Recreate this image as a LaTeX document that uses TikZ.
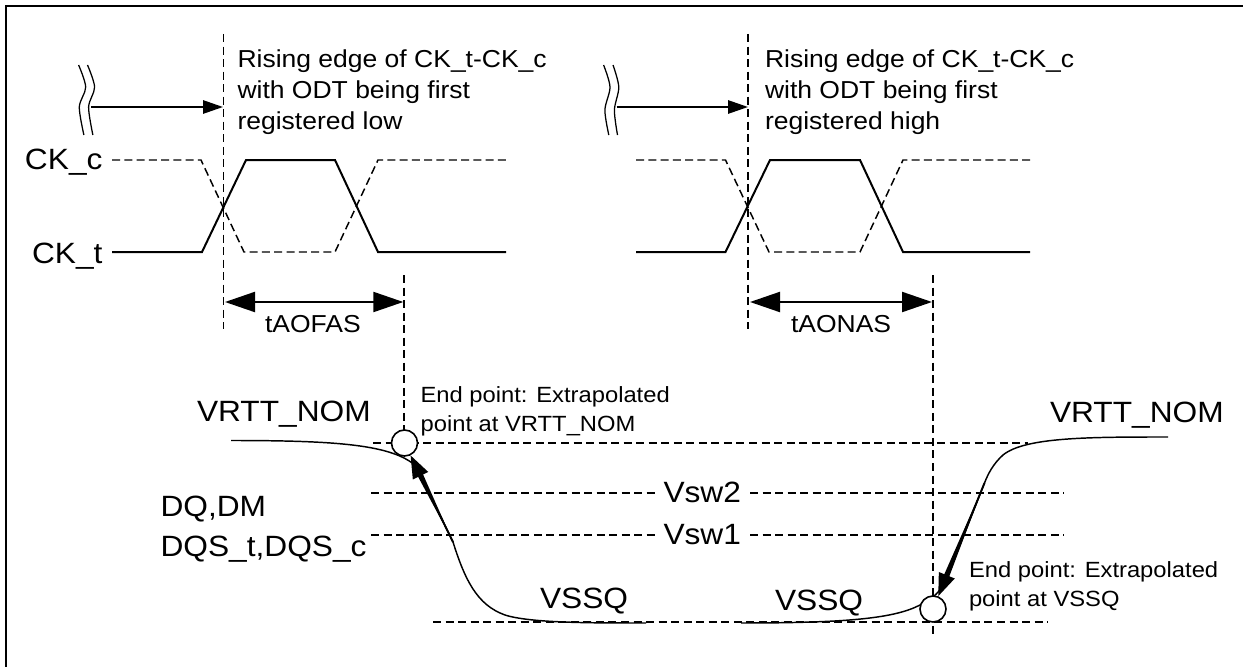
\documentclass[tikz,border=0pt]{standalone}
\usepackage{fontspec}
\usetikzlibrary{arrows.meta}
\newfontfamily\refsans[FakeStretch=1.08]{Liberation Sans}
\tikzset{
  lbl/.style={inner sep=0pt,outer sep=0pt,anchor=base west,align=left},
  big/.style={lbl,font=\refsans\fontsize{22}{26}\selectfont},
  mid/.style={lbl,font=\refsans\fontsize{18.4}{23.6}\selectfont},
  sml/.style={lbl,font=\refsans\fontsize{16.5}{21.75}\selectfont},
  sig/.style={line width=1.5pt,line cap=butt,line join=miter},
  sigd/.style={line width=1.1pt,dash pattern=on 6pt off 3.2pt},
  guide/.style={line width=1.1pt,dash pattern=on 6pt off 3.4pt},
  wave/.style={line width=0.95pt},
  curve/.style={line width=1.1pt},
  dim/.style={line width=1.6pt,{Triangle[length=22.5pt,width=15pt]}-{Triangle[length=22.5pt,width=15pt]}},
  reg/.style={line width=1.4pt,-{Triangle[length=15pt,width=10pt]}},
  edgearrow/.style={line width=1.4pt,-{Triangle[length=17pt,width=12.5pt]}},
  endcirc/.style={circle,draw,fill=white,line width=1.2pt,minimum size=19.5pt,inner sep=0pt},
}
\begin{document}
\begin{tikzpicture}[x=0.75pt,y=-0.75pt]
\useasboundingbox (0,0) rectangle (1243,667);
% frame: only top and left are present
\draw[line width=1.8pt] (1243,6) -- (6,6) -- (6,667);

% ---- guides
\coordinate (g1t) at (223.3,34); \coordinate (g1b) at (223.3,329);
\coordinate (g2t) at (404,275);
\coordinate (g3t) at (748,34);   \coordinate (g3b) at (748,329);
\coordinate (g4t) at (933,275);  \coordinate (g4b) at (933,638);
\draw[guide] (g1t) -- (g1b);
\draw[guide] (g3t) -- (g3b);
\draw[guide] (g2t) -- (404,443);
\draw[guide] (g4t) -- (g4b);

% horizontal levels
\coordinate (h1a) at (373,443);  \coordinate (h1b) at (1028,443);
\coordinate (s2a) at (371,493);  \coordinate (s2b) at (1064,493);
\coordinate (s1a) at (371,535);  \coordinate (s1b) at (1064,535);
\coordinate (h0a) at (433,622);  \coordinate (h0b) at (1048,622);
\draw[guide] (h1a) -- (h1b);
\draw[guide] (h0a) -- (h0b);
\node[big] (vsw2) at (663.5,502.7) {Vsw2};
\node[big] (vsw1) at (663.5,544) {Vsw1};
\draw[guide] (s2a) -- (655,493); \draw[guide] (750,493) -- (s2b);
\draw[guide] (s1a) -- (655,535); \draw[guide] (750,535) -- (s1b);

% ---- clocks
\draw[sigd] (112,160) -- (201,160) -- (244,252) -- (335,252) -- (378,160) -- (506,160);
\draw[sig]  (112,252) -- (202,252) -- (246,160) -- (335,160) -- (378,252) -- (506,252);
\draw[sigd] (636,160) -- (725.5,160) -- (769,252) -- (860,252) -- (903,160) -- (1030,160);
\draw[sig]  (636,252) -- (725.5,252) -- (770,160) -- (860,160) -- (903,252) -- (1030,252);

\node[big] (ckc) at (25,170) {CK\_c};
\node[big] (ckt) at (32,263) {CK\_t};

% ---- break marks and arrows
\draw[wave] plot[smooth] coordinates {(78.6,65) (85.7,87) (79.3,107) (83.9,135)};
\draw[wave] plot[smooth] coordinates {(87.5,65) (94.6,87) (88.6,107) (92.9,135)};
\draw[wave] plot[smooth] coordinates {(603.6,65) (610,87) (604.9,110) (608.8,135)};
\draw[wave] plot[smooth] coordinates {(613,65) (618.8,87) (614.4,110) (617.5,135)};
\coordinate (br1) at (91,107);  \coordinate (br1e) at (223,107);
\coordinate (br2) at (616.6,107); \coordinate (br2e) at (748,107);
\draw[reg] (br1) -- (br1e);
\draw[reg] (br2) -- (br2e);

\node[mid] (t1) at (237.5,130) {Rising edge of CK\_t-CK\_c\\with ODT being first\\registered low};
\node[mid] (t2) at (765,130) {Rising edge of CK\_t-CK\_c\\with ODT being first\\registered high};

% ---- dimension arrows
\coordinate (d1a) at (225,302); \coordinate (d1b) at (403.3,302);
\coordinate (d2a) at (750,302); \coordinate (d2b) at (932,302);
\draw[dim] (d1a) -- (d1b);
\draw[dim] (d2a) -- (d2b);
\node[mid] (tof) at (265,332.7) {tAOFAS};
\node[mid] (ton) at (791,332.7) {tAONAS};

% ---- DQ curves
\draw[curve] (231,440.5) .. controls (340,440.5) and (392,445) .. (416,466)
  -- (453,542)
  .. controls (465,580) and (477,605) .. (505,615)
  .. controls (530,623) and (590,623) .. (646,623);
\draw[curve] (1168,437) .. controls (1090,437) and (1025,437) .. (1003,455)
  .. controls (993,464) and (988,474) .. (984.5,483)
  -- (947,578)
  .. controls (942,590) and (932,600) .. (920,605)
  .. controls (895,618) and (850,623) .. (741,623);

\node[endcirc] (c1) at (404.5,443) {};
\node[endcirc] (c2) at (933,609) {};
\coordinate (ea1) at (453,542);
\coordinate (ea2) at (984.5,483);
\draw[edgearrow] (ea1) -- (c1);
\draw[edgearrow] (ea2) -- (c2);
% tapered shafts of the two edge arrows
\fill (ea1) -- (422.6,473.4) -- (417.6,475.8) -- cycle;
\fill (ea2) -- (948.8,577.7) -- (943.7,575.6) -- cycle;

% ---- labels
\node[big] (vn1) at (197,421.7) {VRTT\_NOM};
\node[big] (vn2) at (1050,422.7) {VRTT\_NOM};
\node[big] (vs1) at (540,608) {VSSQ};
\node[big] (vs2) at (775,610.7) {VSSQ};
\node[big] (dq1) at (160.5,516.7) {DQ,DM};
\node[big] (dq2) at (160.5,556) {DQS\_t,DQS\_c};
\node[sml] (ep1) at (420.6,431.7) {End point: Extrapolated\\point at VRTT\_NOM};
\node[sml] (ep2) at (969,606) {End point: Extrapolated\\point at VSSQ};
\end{tikzpicture}
\end{document}
